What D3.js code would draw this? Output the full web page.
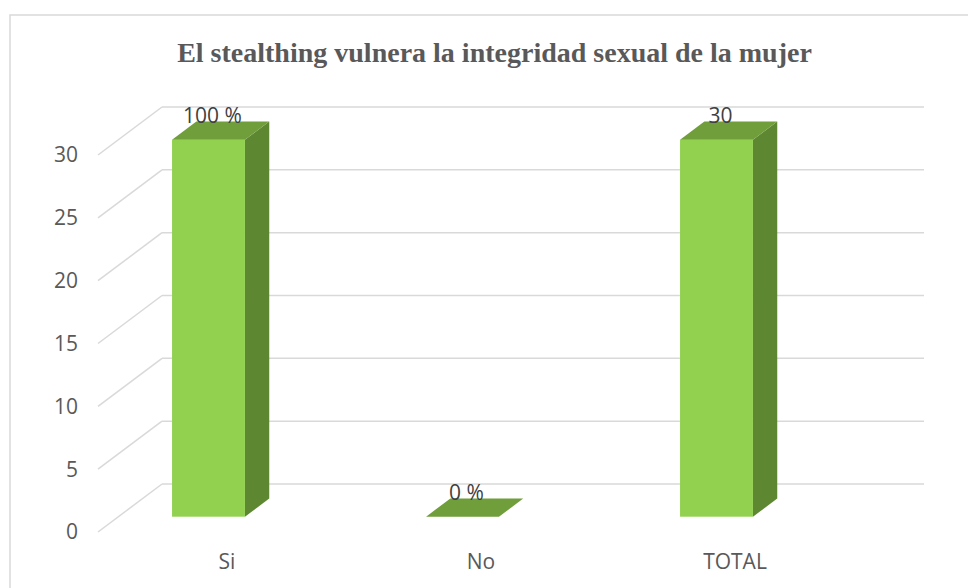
<!DOCTYPE html>
<html>
<head>
<meta charset="utf-8">
<script src="https://cdn.jsdelivr.net/npm/d3@7"></script>
<style>
  html, body { margin: 0; padding: 0; background: #fff; }
  svg { display: block; }
</style>
</head>
<body>
<svg id="chart" width="968" height="588"></svg>
<script>
// Survey answers: count of respondents per option
const categories = ["Si", "No", "TOTAL"];
const values = [30, 0, 30];
const dataLabels = ["100 %", "0 %", "30"];
const yTicks = [0, 5, 10, 15, 20, 25, 30];
const titleText = "El stealthing vulnera la integridad sexual de la mujer";

const svg = d3.select("#chart");

// chart frame
svg.append("rect")
  .attr("x", 10).attr("y", 15)
  .attr("width", 980).attr("height", 600)
  .attr("fill", "#fff")
  .attr("stroke", "#d9d9d9")
  .attr("stroke-width", 1.5);

// title
svg.append("text")
  .attr("x", 494.5).attr("y", 62)
  .attr("text-anchor", "middle")
  .attr("font-family", "'Liberation Serif', 'Times New Roman', serif")
  .attr("font-weight", "bold")
  .attr("font-size", 28)
  .attr("fill", "#595959")
  .text(titleText);

// 3D geometry: back wall and floor depth
const wall = { left: 162, right: 924 };
const floorDepth = { dx: -64, dy: 48 };       // back edge -> front edge of floor
const barFront = { dy: 32.7 };                // bar front face offset from back wall
const barDepth = { dx: 24.3, dy: -18.3 };     // bar front face -> bar back face

const y = d3.scaleLinear().domain([0, 30]).range([484, 107]);

// category positions along the front edge of the floor
const xFloor = d3.scaleBand()
  .domain(categories)
  .range([wall.left + floorDepth.dx, wall.right + floorDepth.dx]);
const barWidth = xFloor.step() * 0.287;
const barShift = -16.5;
const barCenter = c => xFloor(c) + xFloor.bandwidth() / 2 + barShift;

// gridlines: back wall horizontals + diagonals on the side wall
const grid = svg.append("g")
  .attr("stroke", "#d9d9d9")
  .attr("stroke-width", 1.5)
  .attr("fill", "none");
yTicks.forEach(t => {
  grid.append("line")
    .attr("x1", wall.left).attr("x2", wall.right)
    .attr("y1", y(t)).attr("y2", y(t));
  grid.append("line")
    .attr("x1", wall.left).attr("y1", y(t))
    .attr("x2", wall.left + floorDepth.dx).attr("y2", y(t) + floorDepth.dy);
});

// y tick labels at the front end of each diagonal
const tickFont = "'Open Sans', 'Noto Sans', sans-serif";
svg.append("g").selectAll("text")
  .data(yTicks).join("text")
  .attr("x", 78)
  .attr("y", d => y(d) + floorDepth.dy)
  .attr("dy", "0.35em")
  .attr("text-anchor", "end")
  .attr("font-family", tickFont)
  .attr("font-size", 21)
  .attr("fill", "#595959")
  .text(d => d);

// category labels
svg.append("g").selectAll("text")
  .data(categories).join("text")
  .attr("x", d => xFloor(d) + xFloor.bandwidth() / 2 + 2)
  .attr("y", 569)
  .attr("text-anchor", "middle")
  .attr("font-family", tickFont)
  .attr("font-size", 21)
  .attr("fill", "#595959")
  .text(d => d);

// bars
const bars = svg.append("g").selectAll("g")
  .data(categories.map((c, i) => ({ c, v: values[i], label: dataLabels[i] })))
  .join("g");

bars.each(function(d) {
  const g = d3.select(this);
  const x0 = barCenter(d.c) - barWidth / 2;
  const x1 = x0 + barWidth;
  const yb = y(0) + barFront.dy;
  const yt = y(d.v) + barFront.dy;
  const bx = barDepth.dx, by = barDepth.dy;
  // right side face
  g.append("path")
    .attr("d", `M${x1},${yb}L${x1 + bx},${yb + by}L${x1 + bx},${yt + by}L${x1},${yt}Z`)
    .attr("fill", "#5e8731");
  // front face
  if (d.v > 0) {
    g.append("rect")
      .attr("x", x0).attr("y", yt)
      .attr("width", barWidth).attr("height", yb - yt)
      .attr("fill", "#92d050");
  }
  // top face
  g.append("path")
    .attr("d", `M${x0},${yt}L${x1},${yt}L${x1 + bx},${yt + by}L${x0 + bx},${yt + by}Z`)
    .attr("fill", "#6f9e3b");
  // value label
  g.append("text")
    .attr("x", barCenter(d.c) + 4)
    .attr("y", yt + by + 1.5)
    .attr("text-anchor", "middle")
    .attr("font-family", tickFont)
    .attr("font-size", 21)
    .attr("fill", "#404040")
    .text(d.label);
});
</script>
</body>
</html>
